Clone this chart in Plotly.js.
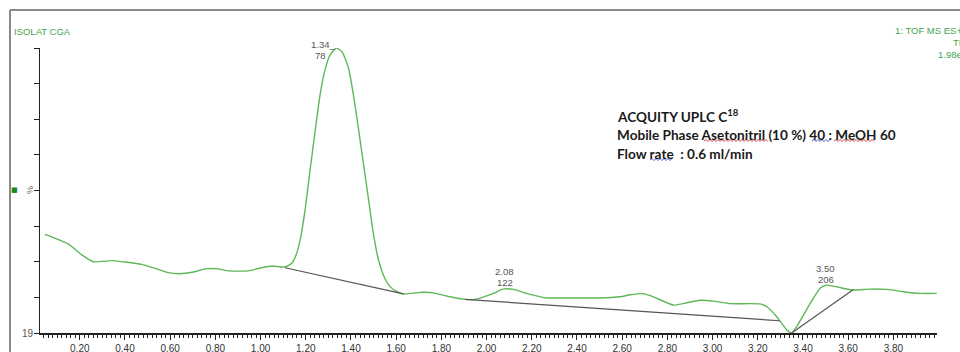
<!DOCTYPE html>
<html>
<head>
<meta charset="utf-8">
<script src="https://cdn.plot.ly/plotly-3.0.1.min.js"></script>
<style>html,body{margin:0;padding:0;background:#fff;}#chart{width:960px;height:352px;}</style>
</head>
<body>
<div id="chart"></div>
<script>
// Retention time (min) and relative intensity (%)
const rtTime = [0.046,0.150,0.209,0.260,0.342,0.400,0.474,0.533,0.592,0.636,0.710,0.754,0.813,0.858,0.946,1.005,1.050,1.108,1.138,1.157,1.175,1.197,1.219,1.242,1.263,1.285,1.307,1.336,1.361,1.389,1.411,1.434,1.456,1.478,1.500,1.522,1.549,1.575,1.600,1.632,1.675,1.720,1.765,1.838,1.905,1.949,2.030,2.067,2.080,2.119,2.178,2.237,2.266,2.340,2.428,2.502,2.590,2.635,2.694,2.738,2.827,2.886,2.945,3.004,3.077,3.210,3.240,3.284,3.328,3.350,3.372,3.432,3.476,3.505,3.616,3.697,3.771,3.844,3.918,3.992];
const intensity = [34.6,31.2,27.4,25.0,25.4,24.9,24.1,22.7,21.2,20.8,21.5,22.5,22.5,21.8,21.8,22.9,23.5,23.2,24.5,27.4,32.6,43.2,57.2,71.2,83.5,92.3,97.5,100,98.6,93.0,83.5,71.2,58.9,46.7,34.4,25.6,19.3,16.1,14.7,13.7,14.0,14.3,14.1,12.7,11.8,11.8,13.9,15.3,15.5,15.3,13.9,12.7,12.3,12.3,12.3,12.3,12.7,13.4,13.8,12.7,9.8,10.6,11.5,11.2,10.3,10.2,9.2,5.7,1.1,0,2.2,10.4,15.7,16.8,15.1,15.4,15.3,14.5,13.9,13.9];

// Integration baselines (start/end RT and intensity)
const baseline1X = [1.108, 1.632], baseline1Y = [22.9, 13.7];
const baseline2X = [1.905, 3.298], baseline2Y = [11.8, 4.3];
const baseline3X = [3.350, 3.623], baseline3Y = [0.0, 15.3];

// Peak labels
const peakRT = [1.34, 2.08, 3.50];
const peakY = [100, 15.5, 16.8];
const peakRTLabel = ['1.34', '2.08', '3.50'];
const peakArea = ['78', '122', '206'];

const W = 960, H = 352, ML = 40, MR = 23, MT = 48, MB = 19;
const PW = W - ML - MR, PH = H - MT - MB;
const px2x = p => (p - ML) / PW;
const py2y = p => (H - MB - p) / PH;

const green = '#5db857';
const greenText = '#3fa552';
const gray = '#555';

const traces = [
  {x: rtTime, y: intensity, type: 'scatter', mode: 'lines', line: {color: green, width: 1.4, shape: 'spline', smoothing: 0.5}, hoverinfo: 'skip'},
  {x: baseline1X, y: baseline1Y, type: 'scatter', mode: 'lines', line: {color: '#555', width: 1.2}, hoverinfo: 'skip'},
  {x: baseline2X, y: baseline2Y, type: 'scatter', mode: 'lines', line: {color: '#555', width: 1.2}, hoverinfo: 'skip'},
  {x: baseline3X, y: baseline3Y, type: 'scatter', mode: 'lines', line: {color: '#555', width: 1.2}, hoverinfo: 'skip'}
];

const lblFont = {family: 'Liberation Sans, Arial', size: 9.5, color: gray};
const annotations = [];
// Peak 1 (label sits left of apex with a dash)
annotations.push({x: peakRT[0], y: peakY[0], xref: 'x', yref: 'y', text: peakRTLabel[0] + '_', showarrow: false, xanchor: 'right', yanchor: 'middle', xshift: 0, yshift: 4, font: lblFont});
annotations.push({x: peakRT[0], y: peakY[0], xref: 'x', yref: 'y', text: peakArea[0], showarrow: false, xanchor: 'center', yanchor: 'middle', xshift: -17, yshift: -7, font: lblFont});
for (let i = 1; i < 3; i++) {
  annotations.push({x: peakRT[i], y: peakY[i], xref: 'x', yref: 'y', text: peakRTLabel[i], showarrow: false, xanchor: 'center', yanchor: 'middle', yshift: 17, font: lblFont});
  annotations.push({x: peakRT[i], y: peakY[i], xref: 'x', yref: 'y', text: peakArea[i], showarrow: false, xanchor: 'center', yanchor: 'middle', yshift: 6, font: lblFont});
}
const topFont = {family: 'Liberation Sans, Arial', size: 9.5, color: greenText};
annotations.push({x: px2x(12), y: py2y(31), xref: 'paper', yref: 'paper', text: 'ISOLAT CGA', showarrow: false, xanchor: 'left', yanchor: 'middle', font: topFont});
annotations.push({x: px2x(893), y: py2y(30), xref: 'paper', yref: 'paper', text: '1: TOF MS ES+', showarrow: false, xanchor: 'left', yanchor: 'middle', font: topFont});
annotations.push({x: px2x(951), y: py2y(43), xref: 'paper', yref: 'paper', text: 'TIC', showarrow: false, xanchor: 'left', yanchor: 'middle', font: topFont});
annotations.push({x: px2x(936), y: py2y(55), xref: 'paper', yref: 'paper', text: '1.98e4', showarrow: false, xanchor: 'left', yanchor: 'middle', font: topFont});
// y-axis decorations
annotations.push({x: px2x(14), y: py2y(190), xref: 'paper', yref: 'paper', text: '■', showarrow: false, xanchor: 'center', yanchor: 'middle', font: {family: 'DejaVu Sans', size: 7, color: '#1e8a1e'}});
annotations.push({x: px2x(30), y: py2y(190), xref: 'paper', yref: 'paper', text: '%', textangle: -90, showarrow: false, xanchor: 'center', yanchor: 'middle', font: {family: 'Liberation Sans, Arial', size: 9, color: '#666'}});
annotations.push({x: px2x(36), y: py2y(333), xref: 'paper', yref: 'paper', text: '19', showarrow: false, xanchor: 'right', yanchor: 'middle', font: {family: 'Liberation Sans, Arial', size: 10, color: '#555'}});
// Method text block
const blockFont = {family: 'Lato, Carlito, sans-serif', size: 13.6, color: '#1a1a1a', weight: 'bold'};
const blockLines = ['ACQUITY UPLC C<sup>18</sup>', 'Mobile Phase Asetonitril (10 %) 40 : MeOH 60', 'Flow rate  : 0.6 ml/min'];
const blockY = [116, 135, 154];
blockLines.forEach((t, i) => annotations.push({x: px2x(615), y: py2y(blockY[i]), xref: 'paper', yref: 'paper', text: t, showarrow: false, xanchor: 'left', yanchor: 'middle', font: blockFont}));

// frame + spell-check squiggles
function squiggle(x0, x1, y, color) {
  let d = 'M ' + px2x(x0) + ' ' + py2y(y);
  let up = true;
  for (let p = x0 + 2; p <= x1; p += 2) { d += ' L ' + px2x(p) + ' ' + py2y(up ? y - 1.5 : y + 0.5); up = !up; }
  return {type: 'path', xref: 'paper', yref: 'paper', path: d, line: {color: color, width: 0.9}};
}
const shapes = [
  {type: 'line', xref: 'paper', yref: 'paper', x0: px2x(10), x1: px2x(962), y0: py2y(10), y1: py2y(10), line: {color: '#8a8a8a', width: 2}},
  {type: 'line', xref: 'paper', yref: 'paper', x0: px2x(10), x1: px2x(10), y0: py2y(10), y1: py2y(354), line: {color: '#8a8a8a', width: 2}},
  squiggle(704, 768, 141, '#d03030'),
  squiggle(812, 830, 141, '#3050d0'),
  squiggle(834, 875, 141, '#d03030'),
  squiggle(650, 673, 160, '#3050d0')
];

const layout = {
  width: W, height: H,
  margin: {l: ML, r: MR, t: MT, b: MB, pad: 0},
  paper_bgcolor: '#fff', plot_bgcolor: '#fff',
  showlegend: false,
  xaxis: {range: [0.024, 3.993], tick0: 0, dtick: 0.2, tickformat: '.2f', ticks: 'outside', ticklen: 5, tickwidth: 1, tickcolor: '#222',
          showline: true, linecolor: '#222', linewidth: 1.5, showgrid: false, zeroline: false,
          tickfont: {family: 'Liberation Sans, Arial', size: 10, color: '#333'},
          minor: {dtick: 0.02, ticks: 'outside', ticklen: 3, tickcolor: '#222', tickwidth: 1, showgrid: false}},
  yaxis: {range: [0, 100], tick0: 0, dtick: 12.5, ticks: 'outside', ticklen: 5, tickwidth: 1, tickcolor: '#222',
          showticklabels: false, showline: true, linecolor: '#222', linewidth: 1.5, showgrid: false, zeroline: false},
  annotations: annotations,
  shapes: shapes
};
Plotly.newPlot('chart', traces, layout, {staticPlot: true, displayModeBar: false});
</script>
</body>
</html>
